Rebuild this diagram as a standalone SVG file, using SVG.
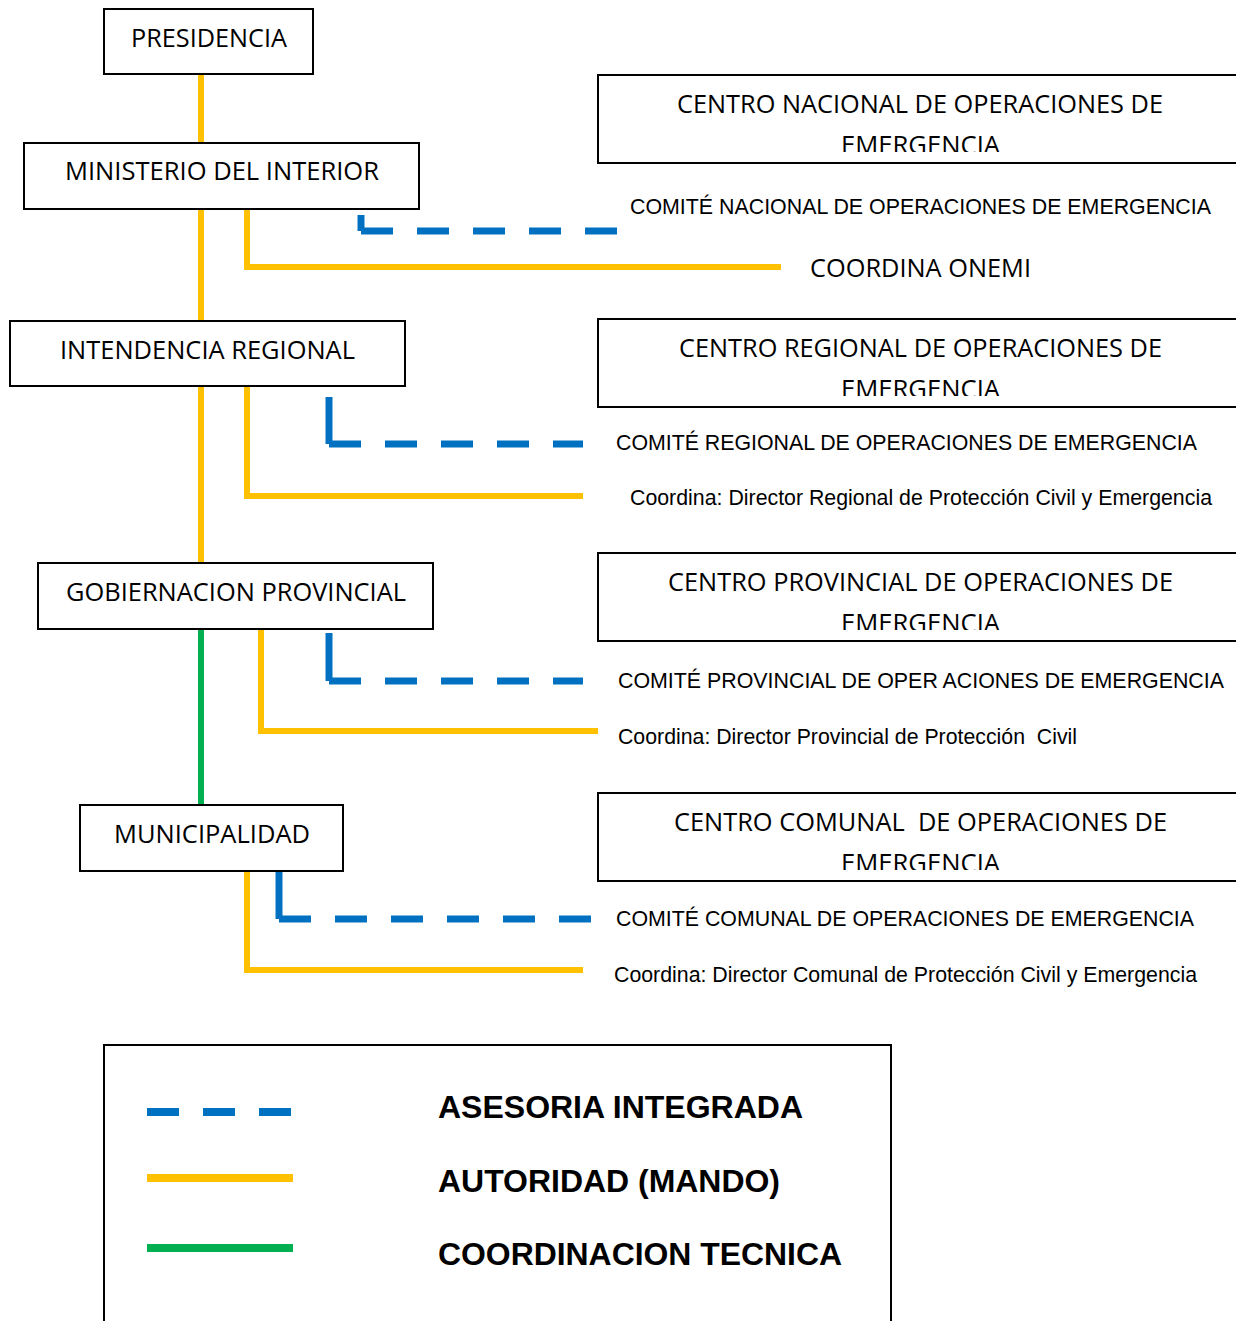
<svg xmlns="http://www.w3.org/2000/svg" width="1236" height="1321" viewBox="0 0 1236 1321">
<style>
.box{fill:#fff;stroke:#000;stroke-width:2}
.cal{font-family:"Open Sans","Noto Sans","Liberation Sans",sans-serif;font-size:25px;fill:#000}
.ar{font-family:"Liberation Sans",Arial,sans-serif;font-size:21.3px;fill:#000}
.lg{font-family:"Liberation Sans",Arial,sans-serif;font-size:32px;font-weight:bold;fill:#000}
.y{fill:none;stroke:#FFC000;stroke-width:6}
.g{fill:none;stroke:#00B050;stroke-width:6}
.b{fill:none;stroke:#0070C0;stroke-width:7}
.bd{fill:none;stroke:#0070C0;stroke-width:7;stroke-dasharray:32 24}
</style>
<defs>
<clipPath id="cN"><rect x="598" y="75" width="640" height="77"/></clipPath>
<clipPath id="cR"><rect x="598" y="319" width="640" height="77"/></clipPath>
<clipPath id="cP"><rect x="598" y="553" width="640" height="77"/></clipPath>
<clipPath id="cC"><rect x="598" y="793" width="640" height="77"/></clipPath>
</defs>
<rect width="1236" height="1321" fill="#fff"/>

<g id="connectors">
<line class="y" x1="201" y1="74" x2="201" y2="143"/>
<line class="y" x1="201" y1="209" x2="201" y2="321"/>
<polyline class="y" points="247,209 247,267 781,267"/>
<line class="b" x1="361" y1="215" x2="361" y2="231"/>
<line class="bd" x1="361" y1="231" x2="617" y2="231"/>

<line class="y" x1="201" y1="386" x2="201" y2="563"/>
<polyline class="y" points="247,386 247,496 583,496"/>
<line class="b" x1="329" y1="397" x2="329" y2="444"/>
<line class="bd" x1="329" y1="444" x2="583" y2="444"/>

<line class="g" x1="201" y1="629" x2="201" y2="805"/>
<polyline class="y" points="261,629 261,731 598,731"/>
<line class="b" x1="329" y1="633" x2="329" y2="681"/>
<line class="bd" x1="329" y1="681" x2="583" y2="681"/>

<polyline class="y" points="247,871 247,970 583,970"/>
<line class="b" x1="279" y1="871" x2="279" y2="919"/>
<line class="bd" x1="279" y1="919" x2="591" y2="919"/>
</g>

<g id="presidencia">
<rect class="box" x="104" y="9" width="209" height="65"/>
<text class="cal" x="131" y="47" textLength="156" lengthAdjust="spacingAndGlyphs">PRESIDENCIA</text>
</g>
<g id="ministerio">
<rect class="box" x="24" y="143" width="395" height="66"/>
<text class="cal" x="65" y="180" textLength="314" lengthAdjust="spacingAndGlyphs">MINISTERIO DEL INTERIOR</text>
</g>
<g id="intendencia">
<rect class="box" x="10" y="321" width="395" height="65"/>
<text class="cal" x="60" y="359" textLength="295" lengthAdjust="spacingAndGlyphs">INTENDENCIA REGIONAL</text>
</g>
<g id="gobernacion">
<rect class="box" x="38" y="563" width="395" height="66"/>
<text class="cal" x="66" y="601" textLength="340" lengthAdjust="spacingAndGlyphs">GOBIERNACION PROVINCIAL</text>
</g>
<g id="municipalidad">
<rect class="box" x="80" y="805" width="263" height="66"/>
<text class="cal" x="114" y="843" textLength="196" lengthAdjust="spacingAndGlyphs">MUNICIPALIDAD</text>
</g>

<g id="centro-nacional">
<rect class="box" x="598" y="75" width="650" height="88"/>
<g clip-path="url(#cN)">
<text class="cal" x="677" y="113" textLength="486" lengthAdjust="spacingAndGlyphs">CENTRO NACIONAL DE OPERACIONES DE</text>
<text class="cal" x="841" y="154" textLength="159" lengthAdjust="spacingAndGlyphs">EMERGENCIA</text>
</g>
</g>
<g id="comite-nacional">
<text class="ar" x="630" y="214" textLength="581" lengthAdjust="spacingAndGlyphs">COMITÉ NACIONAL DE OPERACIONES DE EMERGENCIA</text>
</g>
<g id="coordina-onemi">
<text class="cal" x="810" y="277" textLength="221" lengthAdjust="spacingAndGlyphs">COORDINA ONEMI</text>
</g>

<g id="centro-regional">
<rect class="box" x="598" y="319" width="650" height="88"/>
<g clip-path="url(#cR)">
<text class="cal" x="679" y="357" textLength="483" lengthAdjust="spacingAndGlyphs">CENTRO REGIONAL DE OPERACIONES DE</text>
<text class="cal" x="841" y="398" textLength="159" lengthAdjust="spacingAndGlyphs">EMERGENCIA</text>
</g>
</g>
<g id="comite-regional">
<text class="ar" x="616" y="450" textLength="581" lengthAdjust="spacingAndGlyphs">COMITÉ REGIONAL DE OPERACIONES DE EMERGENCIA</text>
</g>
<g id="coordina-regional">
<text class="ar" x="630" y="505" textLength="582" lengthAdjust="spacingAndGlyphs">Coordina: Director Regional de Protección Civil y Emergencia</text>
</g>

<g id="centro-provincial">
<rect class="box" x="598" y="553" width="650" height="88"/>
<g clip-path="url(#cP)">
<text class="cal" x="668" y="591" textLength="505" lengthAdjust="spacingAndGlyphs">CENTRO PROVINCIAL DE OPERACIONES DE</text>
<text class="cal" x="841" y="632" textLength="159" lengthAdjust="spacingAndGlyphs">EMERGENCIA</text>
</g>
</g>
<g id="comite-provincial">
<text class="ar" x="618" y="688" textLength="606" lengthAdjust="spacingAndGlyphs">COMITÉ PROVINCIAL DE OPER ACIONES DE EMERGENCIA</text>
</g>
<g id="coordina-provincial">
<text class="ar" x="618" y="744" textLength="459" lengthAdjust="spacingAndGlyphs" xml:space="preserve">Coordina: Director Provincial de Protección  Civil</text>
</g>

<g id="centro-comunal">
<rect class="box" x="598" y="793" width="650" height="88"/>
<g clip-path="url(#cC)">
<text class="cal" x="674" y="831" textLength="493" lengthAdjust="spacingAndGlyphs" xml:space="preserve">CENTRO COMUNAL  DE OPERACIONES DE</text>
<text class="cal" x="841" y="872" textLength="159" lengthAdjust="spacingAndGlyphs">EMERGENCIA</text>
</g>
</g>
<g id="comite-comunal">
<text class="ar" x="616" y="926" textLength="578" lengthAdjust="spacingAndGlyphs">COMITÉ COMUNAL DE OPERACIONES DE EMERGENCIA</text>
</g>
<g id="coordina-comunal">
<text class="ar" x="614" y="982" textLength="583" lengthAdjust="spacingAndGlyphs">Coordina: Director Comunal de Protección Civil y Emergencia</text>
</g>

<g id="legend">
<path class="box" d="M104,1330 V1045 H891 V1330"/>
<line x1="147" y1="1112" x2="293" y2="1112" stroke="#0070C0" stroke-width="8" stroke-dasharray="32 24"/>
<line x1="147" y1="1178" x2="293" y2="1178" stroke="#FFC000" stroke-width="8"/>
<line x1="147" y1="1248" x2="293" y2="1248" stroke="#00B050" stroke-width="8"/>
<text class="lg" x="438" y="1118" textLength="365" lengthAdjust="spacingAndGlyphs">ASESORIA INTEGRADA</text>
<text class="lg" x="438" y="1192" textLength="342" lengthAdjust="spacingAndGlyphs">AUTORIDAD (MANDO)</text>
<text class="lg" x="438" y="1265" textLength="404" lengthAdjust="spacingAndGlyphs">COORDINACION TECNICA</text>
</g>
</svg>
